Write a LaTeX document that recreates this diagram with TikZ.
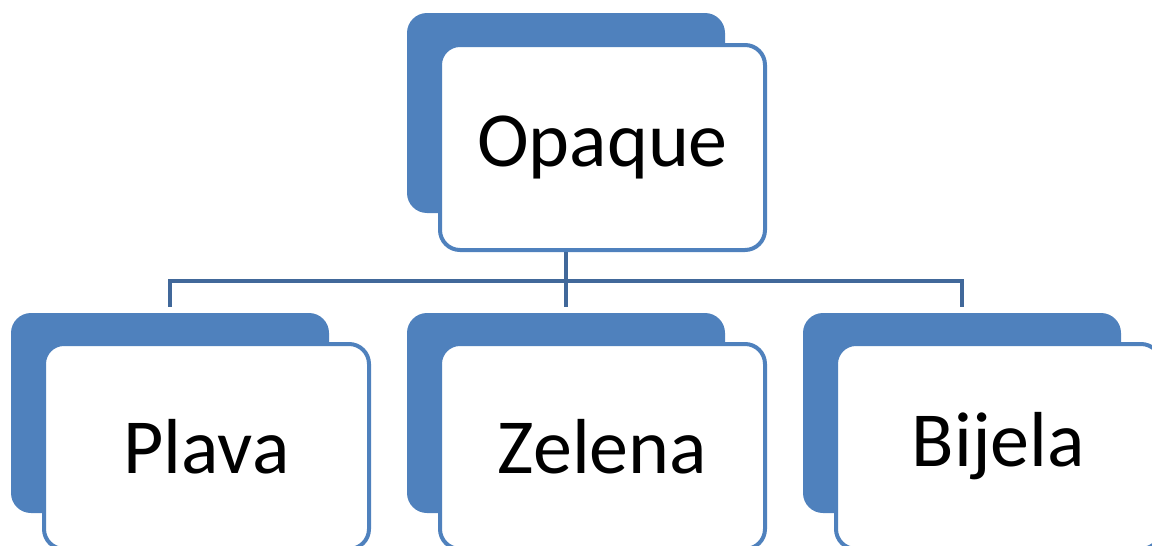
\documentclass[tikz,border=0pt]{standalone}
\usepackage{fontspec}
\setmainfont{Carlito}
\usetikzlibrary{positioning}
\definecolor{boxblue}{HTML}{4F81BD}
\definecolor{linkblue}{HTML}{41689A}
\begin{document}
\begin{tikzpicture}[x=0.5pt,y=-0.5pt,
  backbox/.style={fill=boxblue,rounded corners=10pt,minimum width=159pt,minimum height=100pt,inner sep=0pt},
  frontbox/.style={draw=boxblue,fill=white,line width=2pt,rounded corners=10pt,minimum width=162.5pt,minimum height=102.5pt,inner sep=0pt,font=\fontsize{39}{46}\selectfont},
  link/.style={draw=linkblue,line width=2pt}]
\useasboundingbox (0,0) rectangle (1152,546);
\clip (0,0) rectangle (1152,546);
%
\node[backbox] (topback) at (566,113) {};
\node[frontbox] (top) at (602.5,147.5) {Opaque};
%
\node[backbox] (plavaback) at (170,413) {};
\node[backbox] (zelenaback) at (566,413) {};
\node[backbox] (bijelaback) at (962,413) {};
\node[frontbox] (plava) at (206.5,446.5) {Plava};
\node[frontbox] (zelena) at (602.5,446.5) {Zelena};
\node[frontbox] (bijela) at (998.5,446.5) {Bijela};
%
\coordinate (bus) at (566,281);
\coordinate (plavaend) at ([yshift=3pt]plavaback.north);
\coordinate (zelenaend) at ([yshift=3pt]zelenaback.north);
\coordinate (bijelaend) at ([yshift=3pt]bijelaback.north);
\draw[link] (top.south -| bus) -- (zelenaend);
\draw[link] (plavaend) |- (bus) -| (bijelaend);
\end{tikzpicture}
\end{document}
